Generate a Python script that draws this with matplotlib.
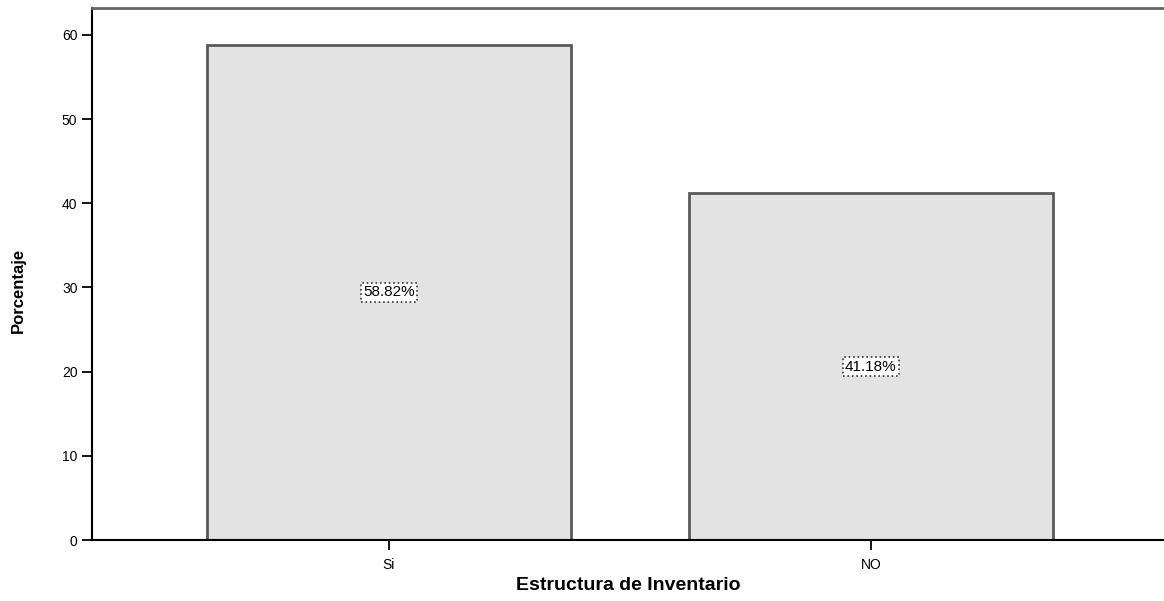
import matplotlib

matplotlib.use("Agg")

import matplotlib.pyplot as plt

categories = ["Si", "NO"]
percentages = [58.82, 41.18]
bar_labels = ["58.82%", "41.18%"]
y_ticks = [0, 10, 20, 30, 40, 50, 60]

FILL = "#E3E3E3"
EDGE = "#5A5A5A"

plt.rcParams["font.family"] = ["Liberation Sans", "DejaVu Sans"]

fig = plt.figure(figsize=(11.64, 6.01), dpi=100)
ax = fig.add_axes([92 / 1164, 61 / 601, 1 - 92 / 1164, 532 / 601])

positions = range(len(categories))
ax.bar(positions, percentages, width=0.755, color=FILL, edgecolor=EDGE, linewidth=2)

for pos, value, text in zip(positions, percentages, bar_labels):
    ax.text(
        pos, value / 2, text,
        ha="center", va="center", fontsize=11,
        bbox=dict(boxstyle="square,pad=0.15", facecolor="white",
                  edgecolor="#333333", linestyle=":", linewidth=1.2),
    )

ax.set_xlim(-0.616, 1.608)
ax.set_ylim(0, 63.2)
ax.set_yticks(y_ticks)
ax.set_xticks(list(positions), categories)
ax.tick_params(axis="both", direction="out", length=7, width=1.3, labelsize=10)
ax.tick_params(axis="x", pad=6)

ax.spines["left"].set_linewidth(1.5)
ax.spines["bottom"].set_linewidth(1.5)
ax.spines["top"].set_color("#666666")
ax.spines["top"].set_linewidth(2)
ax.spines["right"].set_visible(False)

ax.set_ylabel("Porcentaje", fontsize=12, fontweight="bold")
ax.yaxis.set_label_coords(-0.062, 0.47)
ax.set_xlabel("Estructura de Inventario", fontsize=14, fontweight="bold")
ax.xaxis.set_label_coords(0.5, -0.085)
ax.xaxis.label.set_va("center")

fig.savefig("out.png", dpi=100)
plt.close(fig)
